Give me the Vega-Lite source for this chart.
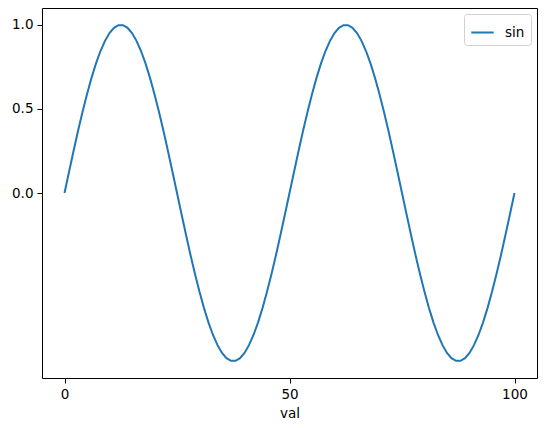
{
  "$schema": "https://vega.github.io/schema/vega-lite/v6.json",
  "autosize": {"type": "none"},
  "width": 495,
  "height": 370,
  "padding": {"left": 42, "top": 8, "right": 8, "bottom": 50},
  "background": "white",
  "config": {
    "view": {"stroke": "black", "strokeWidth": 1},
    "font": "DejaVu Sans",
    "axis": {
      "grid": false,
      "domain": false,
      "tickColor": "black",
      "tickSize": 5,
      "tickWidth": 1,
      "labelColor": "black",
      "labelFontSize": 13.5,
      "labelPadding": 4,
      "titleFontSize": 13.5,
      "titleFontWeight": "normal",
      "titleColor": "black"
    }
  },
  "data": {
    "values": [
      {"val": 0, "sin": 0, "series": "sin"},
      {"val": 1, "sin": 0.1253, "series": "sin"},
      {"val": 2, "sin": 0.2487, "series": "sin"},
      {"val": 3, "sin": 0.3681, "series": "sin"},
      {"val": 4, "sin": 0.4818, "series": "sin"},
      {"val": 5, "sin": 0.5878, "series": "sin"},
      {"val": 6, "sin": 0.6845, "series": "sin"},
      {"val": 7, "sin": 0.7705, "series": "sin"},
      {"val": 8, "sin": 0.8443, "series": "sin"},
      {"val": 9, "sin": 0.9048, "series": "sin"},
      {"val": 10, "sin": 0.9511, "series": "sin"},
      {"val": 11, "sin": 0.9823, "series": "sin"},
      {"val": 12, "sin": 0.998, "series": "sin"},
      {"val": 13, "sin": 0.998, "series": "sin"},
      {"val": 14, "sin": 0.9823, "series": "sin"},
      {"val": 15, "sin": 0.9511, "series": "sin"},
      {"val": 16, "sin": 0.9048, "series": "sin"},
      {"val": 17, "sin": 0.8443, "series": "sin"},
      {"val": 18, "sin": 0.7705, "series": "sin"},
      {"val": 19, "sin": 0.6845, "series": "sin"},
      {"val": 20, "sin": 0.5878, "series": "sin"},
      {"val": 21, "sin": 0.4818, "series": "sin"},
      {"val": 22, "sin": 0.3681, "series": "sin"},
      {"val": 23, "sin": 0.2487, "series": "sin"},
      {"val": 24, "sin": 0.1253, "series": "sin"},
      {"val": 25, "sin": 0, "series": "sin"},
      {"val": 26, "sin": -0.1253, "series": "sin"},
      {"val": 27, "sin": -0.2487, "series": "sin"},
      {"val": 28, "sin": -0.3681, "series": "sin"},
      {"val": 29, "sin": -0.4818, "series": "sin"},
      {"val": 30, "sin": -0.5878, "series": "sin"},
      {"val": 31, "sin": -0.6845, "series": "sin"},
      {"val": 32, "sin": -0.7705, "series": "sin"},
      {"val": 33, "sin": -0.8443, "series": "sin"},
      {"val": 34, "sin": -0.9048, "series": "sin"},
      {"val": 35, "sin": -0.9511, "series": "sin"},
      {"val": 36, "sin": -0.9823, "series": "sin"},
      {"val": 37, "sin": -0.998, "series": "sin"},
      {"val": 38, "sin": -0.998, "series": "sin"},
      {"val": 39, "sin": -0.9823, "series": "sin"},
      {"val": 40, "sin": -0.9511, "series": "sin"},
      {"val": 41, "sin": -0.9048, "series": "sin"},
      {"val": 42, "sin": -0.8443, "series": "sin"},
      {"val": 43, "sin": -0.7705, "series": "sin"},
      {"val": 44, "sin": -0.6845, "series": "sin"},
      {"val": 45, "sin": -0.5878, "series": "sin"},
      {"val": 46, "sin": -0.4818, "series": "sin"},
      {"val": 47, "sin": -0.3681, "series": "sin"},
      {"val": 48, "sin": -0.2487, "series": "sin"},
      {"val": 49, "sin": -0.1253, "series": "sin"},
      {"val": 50, "sin": 0, "series": "sin"},
      {"val": 51, "sin": 0.1253, "series": "sin"},
      {"val": 52, "sin": 0.2487, "series": "sin"},
      {"val": 53, "sin": 0.3681, "series": "sin"},
      {"val": 54, "sin": 0.4818, "series": "sin"},
      {"val": 55, "sin": 0.5878, "series": "sin"},
      {"val": 56, "sin": 0.6845, "series": "sin"},
      {"val": 57, "sin": 0.7705, "series": "sin"},
      {"val": 58, "sin": 0.8443, "series": "sin"},
      {"val": 59, "sin": 0.9048, "series": "sin"},
      {"val": 60, "sin": 0.9511, "series": "sin"},
      {"val": 61, "sin": 0.9823, "series": "sin"},
      {"val": 62, "sin": 0.998, "series": "sin"},
      {"val": 63, "sin": 0.998, "series": "sin"},
      {"val": 64, "sin": 0.9823, "series": "sin"},
      {"val": 65, "sin": 0.9511, "series": "sin"},
      {"val": 66, "sin": 0.9048, "series": "sin"},
      {"val": 67, "sin": 0.8443, "series": "sin"},
      {"val": 68, "sin": 0.7705, "series": "sin"},
      {"val": 69, "sin": 0.6845, "series": "sin"},
      {"val": 70, "sin": 0.5878, "series": "sin"},
      {"val": 71, "sin": 0.4818, "series": "sin"},
      {"val": 72, "sin": 0.3681, "series": "sin"},
      {"val": 73, "sin": 0.2487, "series": "sin"},
      {"val": 74, "sin": 0.1253, "series": "sin"},
      {"val": 75, "sin": 0, "series": "sin"},
      {"val": 76, "sin": -0.1253, "series": "sin"},
      {"val": 77, "sin": -0.2487, "series": "sin"},
      {"val": 78, "sin": -0.3681, "series": "sin"},
      {"val": 79, "sin": -0.4818, "series": "sin"},
      {"val": 80, "sin": -0.5878, "series": "sin"},
      {"val": 81, "sin": -0.6845, "series": "sin"},
      {"val": 82, "sin": -0.7705, "series": "sin"},
      {"val": 83, "sin": -0.8443, "series": "sin"},
      {"val": 84, "sin": -0.9048, "series": "sin"},
      {"val": 85, "sin": -0.9511, "series": "sin"},
      {"val": 86, "sin": -0.9823, "series": "sin"},
      {"val": 87, "sin": -0.998, "series": "sin"},
      {"val": 88, "sin": -0.998, "series": "sin"},
      {"val": 89, "sin": -0.9823, "series": "sin"},
      {"val": 90, "sin": -0.9511, "series": "sin"},
      {"val": 91, "sin": -0.9048, "series": "sin"},
      {"val": 92, "sin": -0.8443, "series": "sin"},
      {"val": 93, "sin": -0.7705, "series": "sin"},
      {"val": 94, "sin": -0.6845, "series": "sin"},
      {"val": 95, "sin": -0.5878, "series": "sin"},
      {"val": 96, "sin": -0.4818, "series": "sin"},
      {"val": 97, "sin": -0.3681, "series": "sin"},
      {"val": 98, "sin": -0.2487, "series": "sin"},
      {"val": 99, "sin": -0.1253, "series": "sin"},
      {"val": 100, "sin": 0, "series": "sin"}
    ]
  },
  "mark": {"type": "line", "strokeWidth": 2, "clip": true},
  "encoding": {
    "x": {
      "field": "val",
      "type": "quantitative",
      "scale": {"domain": [-5, 105], "nice": false, "zero": false},
      "axis": {"values": [0, 50, 100], "title": "val", "titlePadding": 6}
    },
    "y": {
      "field": "sin",
      "type": "quantitative",
      "scale": {"domain": [-1.1, 1.1], "nice": false, "zero": false},
      "axis": {"values": [0, 0.5, 1], "format": ".1f", "title": null}
    },
    "color": {
      "field": "series",
      "type": "nominal",
      "scale": {"domain": ["sin"], "range": ["#1f77b4"]},
      "legend": {
        "title": null,
        "orient": "top-right",
        "offset": 6,
        "padding": 6,
        "strokeColor": "#d0d0d0",
        "fillColor": "white",
        "cornerRadius": 3,
        "labelFontSize": 13.5,
        "labelColor": "black",
        "symbolType": "stroke",
        "symbolStrokeWidth": 2,
        "symbolSize": 500,
        "labelOffset": 10
      }
    }
  }
}
